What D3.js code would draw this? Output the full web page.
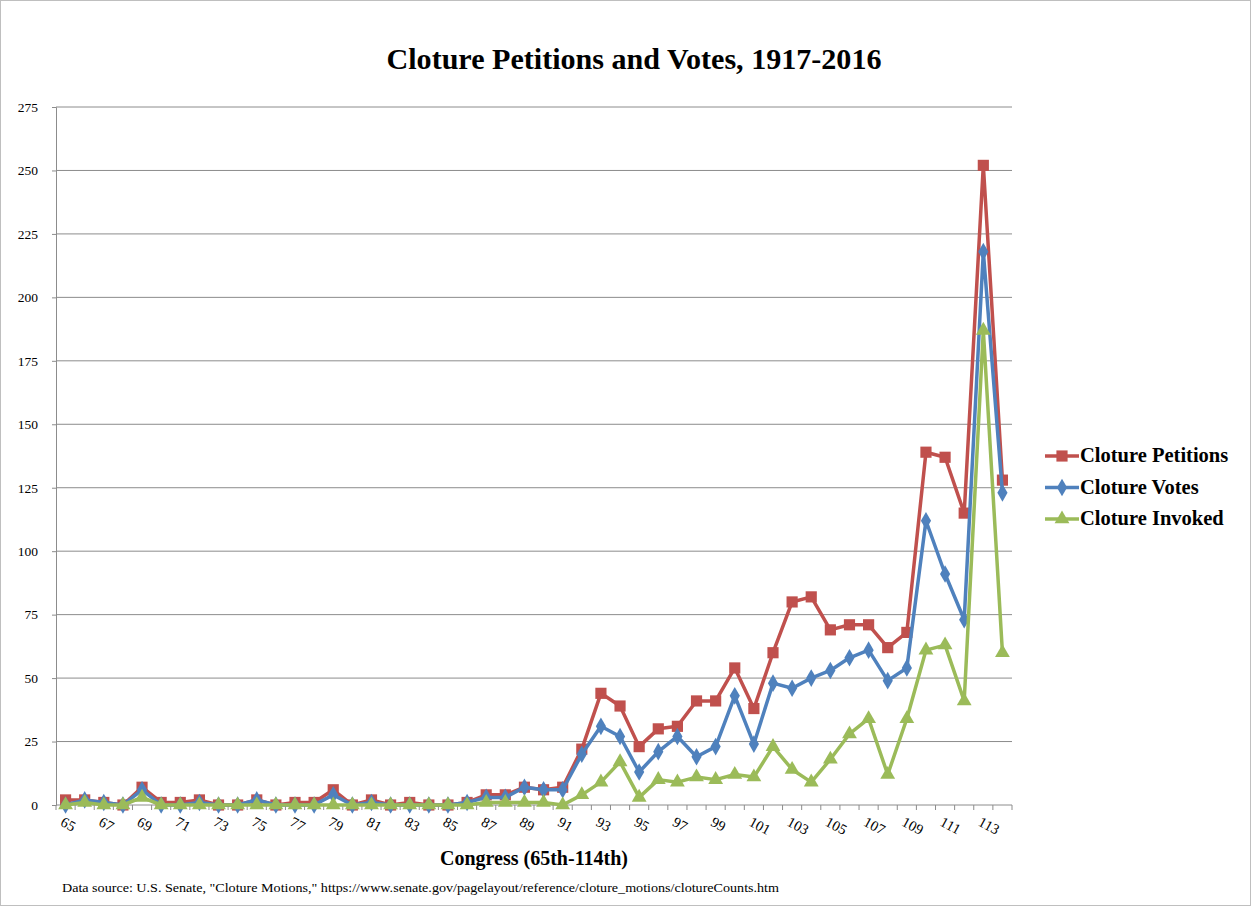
<!DOCTYPE html>
<html>
<head>
<meta charset="utf-8">
<script src="https://cdn.jsdelivr.net/npm/d3@7"></script>
<style>
  body { margin: 0; background: #fff; }
  svg { display: block; }
</style>
</head>
<body>
<div id="chart"></div>
<script>
// ---- Cloture petitions, votes and invoked, 65th-114th Congress ----

const congresses = d3.range(65, 115);

const petitions = [2, 2, 1, 0, 7, 1, 1, 2, 0, 0, 2, 0, 1, 1, 6, 0, 2, 0, 1, 0,
    0, 1, 4, 4, 7, 6, 7, 22, 44, 39, 23, 30, 31, 41, 41, 54, 38, 60, 80, 82,
    69, 71, 71, 62, 68, 139, 137, 115, 252, 128];

const votes = [0, 2, 1, 0, 6, 0, 0, 1, 0, 0, 2, 0, 0, 0, 4, 0, 1, 0, 0, 0,
    0, 1, 3, 3, 7, 6, 6, 20, 31, 27, 13, 21, 27, 19, 23, 43, 24, 48, 46, 50,
    53, 58, 61, 49, 54, 112, 91, 73, 218, 123];

const invoked = [0, 1, 0, 0, 3, 0, 0, 0, 0, 0, 0, 0, 0, 0, 0, 0, 0, 0, 0, 0,
    0, 0, 1, 1, 1, 1, 0, 4, 9, 17, 3, 10, 9, 11, 10, 12, 11, 23, 14, 9,
    18, 28, 34, 12, 34, 61, 63, 41, 187, 60];

const yTicks = d3.range(0, 276, 25);
const xLabels = congresses.filter(c => c % 2 === 1);

const seriesNames = ["Cloture Petitions", "Cloture Votes", "Cloture Invoked"];

const series = [
    {name: seriesNames[0], values: petitions, color: "#C0504D", symbol: d3.symbolSquare, size: 125},
    {name: seriesNames[1], values: votes, color: "#4F81BD", symbol: d3.symbolDiamond, size: 90},
    {name: seriesNames[2], values: invoked, color: "#9BBB59", symbol: d3.symbolTriangle, size: 95}
];

const width = 1255;
const height = 907;
const margin = {top: 107, right: 243, bottom: 102, left: 56};
const serif = "'Liberation Serif', 'DejaVu Serif', serif";

const svg = d3.select("#chart")
    .append("svg")
    .attr("width", width)
    .attr("height", height);

// outer frame
svg.append("rect")
    .attr("x", 0.5).attr("y", 0.5)
    .attr("width", 1250).attr("height", 905)
    .attr("fill", "none")
    .attr("stroke", "#bfbfbf");

const x = d3.scaleBand()
    .domain(congresses)
    .range([margin.left, width - margin.right])
    .padding(0);

const y = d3.scaleLinear()
    .domain([0, 275])
    .range([height - margin.bottom, margin.top]);

const cx = c => x(c) + x.bandwidth() / 2;

// gridlines
svg.append("g")
    .selectAll("line")
    .data(yTicks.filter(t => t > 0))
    .enter()
    .append("line")
    .attr("x1", margin.left)
    .attr("x2", width - margin.right)
    .attr("y1", d => y(d))
    .attr("y2", d => y(d))
    .attr("stroke", "#8c8c8c")
    .attr("stroke-width", 1);

// y axis
const yAxis = svg.append("g")
    .attr("transform", `translate(${margin.left}, 0)`)
    .call(d3.axisLeft(y).tickValues(yTicks).tickSize(4).tickPadding(14));
yAxis.select(".domain").attr("stroke", "#8c8c8c");
yAxis.selectAll(".tick line").attr("stroke", "#8c8c8c");
yAxis.selectAll("text")
    .style("font-family", serif)
    .style("font-size", "13.5px")
    .attr("fill", "#000");

// x axis: category ticks between bands
const xAxisG = svg.append("g")
    .attr("transform", `translate(0, ${height - margin.bottom})`);
xAxisG.append("line")
    .attr("x1", margin.left)
    .attr("x2", width - margin.right)
    .attr("stroke", "#8c8c8c");
xAxisG.selectAll("line.tk")
    .data(congresses.concat([115]))
    .enter()
    .append("line")
    .attr("class", "tk")
    .attr("x1", d => d === 115 ? width - margin.right : x(d))
    .attr("x2", d => d === 115 ? width - margin.right : x(d))
    .attr("y1", 0)
    .attr("y2", 5)
    .attr("stroke", "#8c8c8c");
xAxisG.selectAll("text")
    .data(xLabels)
    .enter()
    .append("text")
    .attr("transform", d => `translate(${cx(d) - 6}, 20) rotate(28)`)
    .attr("text-anchor", "start")
    .style("font-family", serif)
    .style("font-size", "14.5px")
    .text(d => d);

// lines and markers
series.forEach(s => {
    const line = d3.line()
        .x((d, i) => cx(congresses[i]))
        .y(d => y(d));

    svg.append("path")
        .datum(s.values)
        .attr("d", line)
        .attr("fill", "none")
        .attr("stroke", s.color)
        .attr("stroke-width", 3.5)
        .attr("stroke-linejoin", "round");

    svg.append("g")
        .selectAll("path")
        .data(s.values)
        .enter()
        .append("path")
        .attr("d", d3.symbol().type(s.symbol).size(s.size))
        .attr("transform", (d, i) => `translate(${cx(congresses[i])}, ${y(d)})`)
        .attr("fill", s.color);
});

// Title
svg.append("text")
    .attr("x", 634)
    .attr("y", 69)
    .attr("text-anchor", "middle")
    .attr("textLength", 495)
    .attr("lengthAdjust", "spacingAndGlyphs")
    .style("font-family", serif)
    .style("font-size", "30px")
    .style("font-weight", "bold")
    .text("Cloture Petitions and Votes, 1917-2016");

// X label
svg.append("text")
    .attr("x", 534)
    .attr("y", 865)
    .attr("text-anchor", "middle")
    .style("font-family", serif)
    .style("font-size", "20px")
    .style("font-weight", "bold")
    .text("Congress (65th-114th)");

// Source note
svg.append("text")
    .attr("x", 62)
    .attr("y", 892)
    .attr("textLength", 717)
    .attr("lengthAdjust", "spacingAndGlyphs")
    .style("font-family", serif)
    .style("font-size", "12px")
    .text("Data source: U.S. Senate, \"Cloture Motions,\" https://www.senate.gov/pagelayout/reference/cloture_motions/clotureCounts.htm");

// Legend
const legend = svg.append("g")
    .attr("transform", "translate(1045, 456)");
series.forEach((s, i) => {
    const g = legend.append("g").attr("transform", `translate(0, ${i * 31.5})`);
    g.append("line")
        .attr("x1", 0).attr("x2", 34)
        .attr("stroke", s.color)
        .attr("stroke-width", 3.5);
    g.append("path")
        .attr("d", d3.symbol().type(s.symbol).size(s.size))
        .attr("transform", "translate(17, 0)")
        .attr("fill", s.color);
    g.append("text")
        .attr("x", 35)
        .attr("y", 6)
        .style("font-family", serif)
        .style("font-size", "20.5px")
        .style("font-weight", "bold")
        .text(s.name);
});
</script>
</body>
</html>
